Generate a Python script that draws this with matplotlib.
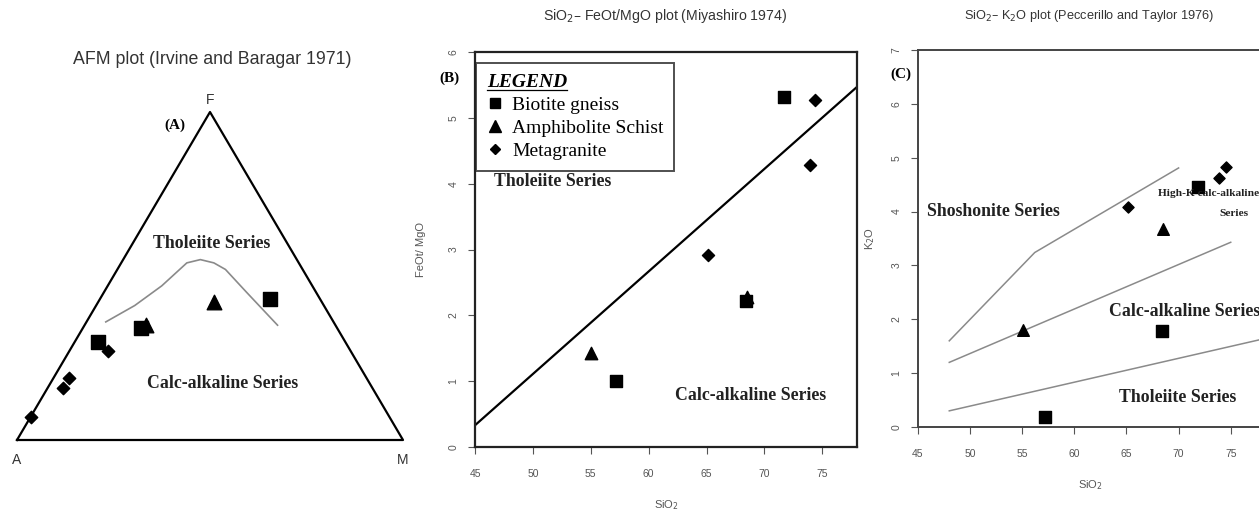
import numpy as np
import matplotlib
matplotlib.use("Agg")
import matplotlib.pyplot as plt
from matplotlib.lines import Line2D

# ---- panel A: AFM ternary (fractions A, F, M) ----
afm_biotite = {"A": [0.13, 0.64, 0.51], "F": [0.43, 0.30, 0.34], "M": [0.44, 0.06, 0.15]}
afm_amphib = {"A": [0.28, 0.49], "F": [0.42, 0.35], "M": [0.30, 0.16]}
afm_meta = {"A": [0.63, 0.80, 0.77, 0.93], "F": [0.27, 0.16, 0.19, 0.07], "M": [0.10, 0.04, 0.04, 0.00]}
afm_curve = {"A": [0.59, 0.49, 0.39, 0.29, 0.25, 0.22, 0.20, 0.18, 0.15],
             "F": [0.36, 0.41, 0.47, 0.54, 0.55, 0.54, 0.52, 0.45, 0.35],
             "M": [0.05, 0.10, 0.14, 0.17, 0.20, 0.24, 0.28, 0.37, 0.50]}

# ---- panel B: SiO2 vs FeOt/MgO ----
b_sio2_biotite = [57.2, 68.4, 71.7]
b_fe_biotite = [1.0, 2.22, 5.31]
b_sio2_amphib = [55.0, 68.5]
b_fe_amphib = [1.43, 2.28]
b_sio2_meta = [65.1, 73.9, 74.4]
b_fe_meta = [2.91, 4.28, 5.27]
b_line_x = [45, 78]
b_line_y = [0.33, 5.47]

# ---- panel C: SiO2 vs K2O ----
c_sio2_biotite = [57.2, 68.4, 71.9]
c_k_biotite = [0.19, 1.79, 4.45]
c_sio2_amphib = [55.1, 68.5]
c_k_amphib = [1.80, 3.68]
c_sio2_meta = [65.1, 73.9, 74.5]
c_k_meta = [4.08, 4.62, 4.83]
c_shosh_x = [48, 56.2, 70]
c_shosh_y = [1.6, 3.24, 4.81]
c_highk_x = [48, 75]
c_highk_y = [1.2, 3.43]
c_thol_x = [48, 78]
c_thol_y = [0.3, 1.63]

sans = "Liberation Sans"
serif = "Liberation Serif"
tick_col = "#555555"
lab_size = 12.8


def tern(d):
    f = np.array(d["F"])
    m = np.array(d["M"])
    return m + 0.5 * f, f


fig = plt.figure(figsize=(12.59, 5.17), dpi=100)

# ---------- A ----------
axA = fig.add_axes([17 / 1259, 1 - 440 / 517, 386 / 1259, 328 / 517])
axA.set_xlim(0, 1)
axA.set_ylim(0, 1)
axA.axis("off")
axA.plot([0, 1, 0.5, 0], [0, 0, 1, 0], color="black", lw=1.6, clip_on=False)
x, y = tern(afm_curve)
axA.plot(x, y, color="#8a8a8a", lw=1.2)
x, y = tern(afm_biotite)
axA.scatter(x, y, marker="s", s=110, color="black", zorder=3)
x, y = tern(afm_amphib)
axA.scatter(x, y, marker="^", s=110, color="black", zorder=3)
x, y = tern(afm_meta)
axA.scatter(x, y, marker="D", s=40, color="black", zorder=3, clip_on=False)
axA.text(0, -0.04, "A", ha="center", va="top", fontsize=10, family=sans, color="#333333")
axA.text(1, -0.04, "M", ha="center", va="top", fontsize=10, family=sans, color="#333333")
axA.text(0.5, 1.015, "F", ha="center", va="bottom", fontsize=10, family=sans, color="#333333")
axA.text(0.41, 0.96, "(A)", ha="center", va="center", fontsize=11, family=serif, fontweight="bold")
axA.text(0.505, 0.60, "Tholeiite Series", ha="center", va="center", fontsize=lab_size, family=serif,
         fontweight="bold", color="#222222")
axA.text(0.533, 0.173, "Calc-alkaline Series", ha="center", va="center", fontsize=lab_size, family=serif,
         fontweight="bold", color="#222222")
fig.text(212 / 1259, 1 - 60 / 517, "AFM plot (Irvine and Baragar 1971)", ha="center", va="center",
         fontsize=12.8, family=sans, color="#333333")


def style_axes(ax, xlim, ylim, yticks):
    ax.set_xlim(*xlim)
    ax.set_ylim(*ylim)
    ax.set_xticks([45, 50, 55, 60, 65, 70, 75])
    ax.set_yticks(yticks)
    ax.tick_params(colors=tick_col, labelsize=7.5, length=5, width=0.8, direction="out")
    ax.tick_params(axis="x", pad=11)
    ax.tick_params(axis="y", pad=7)
    for lab in ax.get_yticklabels():
        lab.set_rotation(90)
        lab.set_va("center")
    for lab in ax.get_xticklabels() + ax.get_yticklabels():
        lab.set_family(sans)


# ---------- B ----------
axB = fig.add_axes([475 / 1259, 1 - 447 / 517, 382 / 1259, 395 / 517])
style_axes(axB, (45, 78), (0, 6), range(0, 7))
for sp in axB.spines.values():
    sp.set_linewidth(1.6)
    sp.set_color("#222222")
axB.plot(b_line_x, b_line_y, color="black", lw=1.6)
axB.scatter(b_sio2_biotite, b_fe_biotite, marker="s", s=80, color="black", zorder=3)
axB.scatter(b_sio2_amphib, b_fe_amphib, marker="^", s=80, color="black", zorder=3)
axB.scatter(b_sio2_meta, b_fe_meta, marker="D", s=38, color="black", zorder=3)
axB.set_xlabel("SiO$_2$", fontsize=8, family=sans, color=tick_col, labelpad=14)
axB.set_ylabel("FeOt/ MgO", fontsize=8, family=sans, color=tick_col, labelpad=16)
axB.text(46.6, 4.03, "Tholeiite Series", ha="left", va="center", fontsize=lab_size, family=serif,
         fontweight="bold", color="#222222")
axB.text(68.8, 0.78, "Calc-alkaline Series", ha="center", va="center", fontsize=lab_size, family=serif,
         fontweight="bold", color="#222222")
axB.text(42.8, 5.6, "(B)", ha="center", va="center", fontsize=11, family=serif, fontweight="bold")
handles = [
    Line2D([], [], marker="s", color="black", ls="none", markersize=7, label="Biotite gneiss"),
    Line2D([], [], marker="^", color="black", ls="none", markersize=8, label="Amphibolite Schist"),
    Line2D([], [], marker="D", color="black", ls="none", markersize=5, label="Metagranite"),
]
leg = axB.legend(handles=handles, loc="upper left", bbox_to_anchor=(0.003, 0.972), title="LEGEND",
                 alignment="left", frameon=True, fancybox=False, edgecolor="#222222",
                 prop={"family": serif, "size": 14}, handlelength=0.8, handletextpad=0.5,
                 labelspacing=0.28, borderpad=0.55, borderaxespad=0)
leg.get_frame().set_linewidth(1.4)
leg.get_title().set_fontstyle("italic")
leg.get_title().set_fontweight("bold")
leg.get_title().set_family(serif)
leg.get_title().set_fontsize(14)
fig.text(665 / 1259, 1 - 16 / 517, "SiO$_2$– FeOt/MgO plot (Miyashiro 1974)", ha="center", va="center",
         fontsize=10.2, family=sans, color="#333333")

# ---------- C ----------
axC = fig.add_axes([918 / 1259, 1 - 427 / 517, 344 / 1259, 377 / 517])
style_axes(axC, (45, 78), (0, 7), range(0, 8))
for sp in axC.spines.values():
    sp.set_linewidth(1.4)
    sp.set_color("#444444")
axC.plot(c_shosh_x, c_shosh_y, color="#8a8a8a", lw=1.1)
axC.plot(c_highk_x, c_highk_y, color="#8a8a8a", lw=1.1)
axC.plot(c_thol_x, c_thol_y, color="#8a8a8a", lw=1.1)
axC.scatter(c_sio2_biotite, c_k_biotite, marker="s", s=70, color="black", zorder=3)
axC.scatter(c_sio2_amphib, c_k_amphib, marker="^", s=70, color="black", zorder=3)
axC.scatter(c_sio2_meta, c_k_meta, marker="D", s=32, color="black", zorder=3)
axC.set_xlabel("SiO$_2$", fontsize=8, family=sans, color=tick_col, labelpad=14)
axC.set_ylabel("K$_2$O", fontsize=8, family=sans, color=tick_col, labelpad=10)
axC.text(45.9, 4.0, "Shoshonite Series", ha="left", va="center", fontsize=lab_size, family=serif,
         fontweight="bold", color="#222222")
axC.text(68.0, 4.33, "High-K calc-alkaline", ha="left", va="center", fontsize=8.2, family=serif,
         fontweight="bold", color="#222222")
axC.text(75.3, 3.96, "Series", ha="center", va="center", fontsize=8.2, family=serif,
         fontweight="bold", color="#222222")
axC.text(63.3, 2.14, "Calc-alkaline Series", ha="left", va="center", fontsize=lab_size, family=serif,
         fontweight="bold", color="#222222")
axC.text(64.3, 0.54, "Tholeiite Series", ha="left", va="center", fontsize=lab_size, family=serif,
         fontweight="bold", color="#222222")
axC.text(43.4, 6.55, "(C)", ha="center", va="center", fontsize=11, family=serif, fontweight="bold",
         clip_on=False)
fig.text(1089 / 1259, 1 - 16 / 517, "SiO$_2$– K$_2$O plot (Peccerillo and Taylor 1976)", ha="center",
         va="center", fontsize=9.2, family=sans, color="#333333")

# underline the legend title
fig.canvas.draw()
bb = leg.get_title().get_window_extent().transformed(fig.transFigure.inverted())
fig.add_artist(Line2D([bb.x0, bb.x1], [bb.y0 + 0.002, bb.y0 + 0.002], color="black", lw=0.9,
                      transform=fig.transFigure))

fig.savefig("out.png", dpi=100)
